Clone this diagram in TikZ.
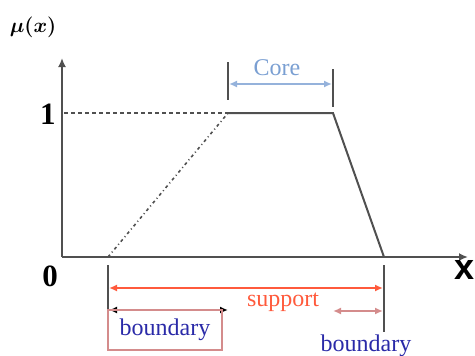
\documentclass[tikz,border=0pt]{standalone}
\usepackage{bm}
\usepackage{fontspec}
\setmainfont{Liberation Serif}
\newfontfamily\axisfont{Liberation Sans}
\usetikzlibrary{arrows.meta,positioning}
\definecolor{axisgray}{HTML}{505050}
\definecolor{coreblue}{HTML}{7A9FD2}
\definecolor{supred}{HTML}{FF5A3C}
\definecolor{bndpink}{HTML}{D48C8C}
\definecolor{bndblue}{HTML}{2A2AA8}
\tikzset{
  axis/.style={draw=axisgray, line width=2.2pt, -{Latex[length=9pt,width=8pt]}},
  memb/.style={draw=axisgray, line width=2pt},
  guide/.style={draw=axisgray, line width=2pt},
  dimarrow/.style={line width=2pt, {Latex[length=8pt,width=7pt]}-{Latex[length=8pt,width=7pt]}},
  lbl/.style={font=\fontsize{24}{26}\selectfont, inner sep=0pt},
  numlbl/.style={font=\bfseries\fontsize{31}{34}\selectfont, inner sep=0pt},
}
\begin{document}
\begin{tikzpicture}[x=1pt,y=-1pt]
\useasboundingbox (0,0) rectangle (475,356);

% Achsen
\coordinate (O) at (62,257);
\coordinate (ytip) at (62,58);
\coordinate (xtip) at (468,257);
\draw[axis] (O) -- (ytip);
\draw[axis] (O) -- (xtip);
\node[inner sep=0pt, font=\fontsize{20}{22}\selectfont] (mu) at (33,27) {$\bm{\mu(x)}$};
\node[numlbl] (one) at (48,114) {1};
\node[numlbl] (zero) at (50,276) {0};
\node[inner sep=0pt, font=\axisfont\bfseries\fontsize{36}{40}\selectfont] (xlbl) at (465,270) {x};

% Trapez
\coordinate (a) at (108,257);
\coordinate (b) at (228,113);
\coordinate (c) at (333,113);
\coordinate (d) at (384,257);
\coordinate (ylev) at (64,113);
\draw[memb, line width=1.6pt, dash pattern=on 4pt off 3pt] (ylev) -- (b);
\draw[memb, line width=1.6pt, dash pattern=on 3pt off 3pt on 1pt off 3pt] (a) -- (b);
\draw[memb] (b) -- (c) -- (d);

% Core
\coordinate (cl1) at (228,62);  \coordinate (cl2) at (228,100);
\coordinate (cr1) at (333,69);  \coordinate (cr2) at (333,107);
\draw[guide] (cl1) -- (cl2);
\draw[guide] (cr1) -- (cr2);
\coordinate (coreL) at (229,84);
\coordinate (coreR) at (332,84);
\draw[dimarrow, draw=coreblue!80, fill=coreblue] (coreL) -- (coreR);
\node[lbl, text=coreblue] (core) at (277,68) {Core};

% Support
\coordinate (sl1) at (108,265); \coordinate (sl2) at (108,311);
\coordinate (sr1) at (384,265); \coordinate (sr2) at (384,332);
\draw[guide] (sl1) -- (sl2);
\draw[guide] (sr1) -- (sr2);
\coordinate (supL) at (109,288);
\coordinate (supR) at (383,288);
\draw[dimarrow, draw=supred, fill=supred] (supL) -- (supR);
\node[lbl, text=supred] (support) at (283,302) {support};

% Boundary links
\coordinate (blL) at (109,310);
\coordinate (blR) at (228,310);
\draw[dimarrow, draw=black] (blL) -- (blR);
\draw[bndpink, line width=2pt] (108,310) rectangle (222,350);
\node[lbl, text=bndblue] (bndleft) at (165,330) {boundary};

% Boundary rechts
\coordinate (brL) at (333,311);
\coordinate (brR) at (383,311);
\draw[dimarrow, draw=bndpink, fill=bndpink] (brL) -- (brR);
\node[lbl, text=bndblue] (bndright) at (366,346) {boundary};
\end{tikzpicture}
\end{document}
